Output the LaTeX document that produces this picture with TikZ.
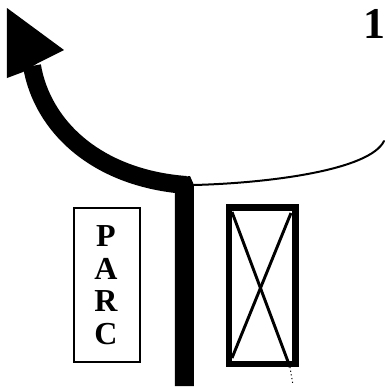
\documentclass[tikz,border=0pt]{standalone}
\usepackage{fontspec}
\setmainfont{Liberation Serif}
\usepackage{tikz}

\tikzset{
	lettre/.style={font=\fontsize{24}{24}\selectfont\bfseries, inner sep=0pt},
}

\begin{document}
\begin{tikzpicture}[x=0.75pt, y=-0.75pt, node distance=24.5pt]
	\useasboundingbox (0,0) rectangle (386,387);

	% Define nodes
	\node (num) [font=\fontsize{33}{33}\selectfont\bfseries, inner sep=0pt] at (374.5,24) {1};
	\node (parc) [draw, line width=1.5pt, minimum width=50pt, minimum height=116pt, inner sep=0pt] at (107,285) {};
	\node (p) [lettre] at (106,236) {P};
	\node (a) [lettre, below of=p] {A};
	\node (r) [lettre, below of=a] {R};
	\node (c) [lettre, below of=r] {C};
	\node (porte) [draw, line width=5pt, minimum width=50pt, minimum height=117.5pt, inner sep=0pt] at (262.5,285.5) {};

	% Draw road
	\fill (7,8) -- (64,50) -- (38,63) -- (23,72) -- (7,78) -- cycle;
	\draw[line width=13.5pt] (32,66) .. controls (42,125) and (95,178) .. (186,185);
	\fill (175,178) -- (190,176) -- (194,185) -- (194,386) -- (175,386) -- cycle;

	% Draw edges
	\draw[line width=1.5pt, line cap=round] (194,185) .. controls (270,183) and (370,170) .. (384,141);
	\draw[line width=2.2pt] (232,212) -- (290,367);
	\draw[line width=2.2pt] (291,213) -- (232,358);
	\draw[line width=0.8pt, dotted] (290,367) -- (293,385);
\end{tikzpicture}
\end{document}
